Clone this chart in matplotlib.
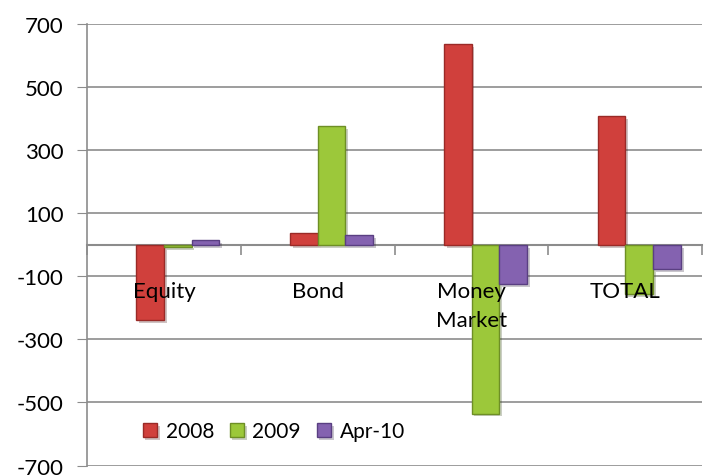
import numpy as np
import matplotlib.pyplot as plt
import matplotlib.patheffects as pe

categories = ["Equity", "Bond", "Money\nMarket", "TOTAL"]
series = ["2008", "2009", "Apr-10"]
v2008 = [-238, 38, 638, 408]
v2009 = [-6, 378, -535, -155]
vapr10 = [15, 30, -125, -78]
colors = ["#D0403C", "#9CC83A", "#8462B0"]
edges = ["#9A2A27", "#6E8F25", "#5A3F82"]

plt.rcParams['font.family'] = ['Lato', 'DejaVu Sans']
plt.rcParams['axes.unicode_minus'] = False

fig = plt.figure(figsize=(7.13, 4.77), dpi=100)
ax = fig.add_axes([0.122, 0.022, 0.863, 0.925])

x = np.arange(len(categories))
w = 0.18
shift = 0.09
shadow = [pe.SimplePatchShadow(offset=(2, -2), alpha=0.25), pe.Normal()]
for i, (vals, name) in enumerate(zip([v2008, v2009, vapr10], series)):
    bars = ax.bar(x + shift + (i - 1) * w, vals, w, color=colors[i], edgecolor=edges[i],
                  linewidth=1.0, label=name, zorder=3)
    for b in bars:
        b.set_path_effects(shadow)

ax.set_xlim(-0.5, len(categories) - 0.5)
ax.set_ylim(-700, 700)
ax.set_yticks(np.arange(-700, 701, 200))
ax.set_axisbelow(True)
ax.yaxis.grid(True, color="#8C8C8C", linewidth=1.2)
ax.tick_params(axis='y', length=7, color="#8C8C8C", labelsize=16, pad=10)

ax.spines['bottom'].set_position(('data', 0))
for s in ['top', 'right']:
    ax.spines[s].set_visible(False)
ax.spines['left'].set_color("#8C8C8C")
ax.spines['bottom'].set_color("#8C8C8C")
ax.spines['left'].set_linewidth(1.2)
ax.spines['bottom'].set_linewidth(1.5)

ax.set_xticks(x)
ax.set_xticklabels(categories, fontsize=16, linespacing=1.55)
ax.set_xticks(np.arange(-0.5, len(categories)), minor=True)
ax.tick_params(axis='x', which='major', length=0, pad=26)
ax.tick_params(axis='x', which='minor', length=7, color="#8C8C8C", width=1.2)
# category names sit on top of the bars
ax.xaxis.set_zorder(5)

ax.legend(loc='lower left', bbox_to_anchor=(0.06, 0.012), ncol=3, frameon=False,
          fontsize=15, handlelength=0.7, handleheight=0.7, handletextpad=0.4,
          columnspacing=0.75)

plt.savefig("out.png", dpi=100)
